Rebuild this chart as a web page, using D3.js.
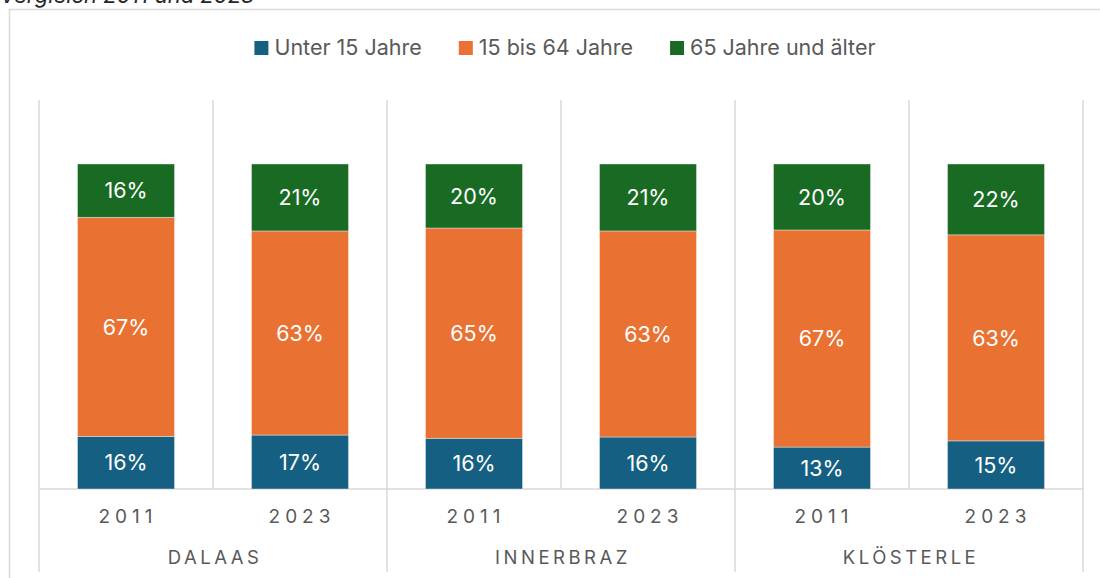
<!DOCTYPE html>
<html>
<head>
<meta charset="utf-8">
<script src="https://cdn.jsdelivr.net/npm/d3@7"></script>
<style>
  html, body { margin: 0; padding: 0; background: #fff; overflow: hidden; }
  svg { display: block; }
  text { font-family: Inter, "Liberation Sans", sans-serif; }
</style>
</head>
<body>
<svg id="chart" width="1100" height="578"></svg>
<script>
const width = 1100;
const height = 578;

// Data (shares in %)
const places = ["DALAAS", "INNERBRAZ", "KLÖSTERLE"];
const years = ["2011", "2023"];
const seriesNames = ["Unter 15 Jahre", "15 bis 64 Jahre", "65 Jahre und älter"];
const seriesColors = ["#156082", "#E97132", "#196B24"];

// one entry per place/year, order as in places x years
const under15 = [16.2, 16.6, 15.6, 16.0, 12.9, 14.8];
const age15to64 = [67.4, 62.8, 64.7, 63.4, 66.8, 63.4];
const over65 = [16.4, 20.6, 19.7, 20.6, 20.3, 21.8];

const rows = [];
places.forEach((p, i) => years.forEach((y, j) => {
    const k = i * years.length + j;
    rows.push({ place: p, year: y, s0: under15[k], s1: age15to64[k], s2: over65[k] });
}));

const svg = d3.select("#chart");
const grid = "#d9d9d9";
const textGray = "#595959";

// Frame (extends past the window on the right / bottom)
svg.append("rect")
    .attr("x", 9.5).attr("y", 9.5)
    .attr("width", 1200).attr("height", 700)
    .attr("fill", "none").attr("stroke", grid).attr("stroke-width", 1.5);

// Title, mostly cut off at the top (as in the source screenshot)
svg.append("text")
    .attr("x", 0).attr("y", 3)
    .attr("font-size", 22)
    .attr("font-style", "italic")
    .attr("fill", "#262626")
    .text("Vergleich 2011 und 2023");

// Scales
const plotTop = 100, plotBottom = 489;
const x0 = d3.scaleBand().domain(places).range([39, 1083]).padding(0);
const x1 = d3.scaleBand().domain(years).range([0, x0.bandwidth()])
    .paddingInner(0.4425).paddingOuter(0.22125);
const y = d3.scaleLinear().domain([0, 100]).range([plotBottom, 164]);

// Gridlines: year boundaries to the axis, place boundaries into the label area
const gridG = svg.append("g").attr("stroke", grid).attr("stroke-width", 1.5);
places.forEach(p => {
    years.forEach((yr, j) => {
        const xx = x0(p) + x1.step() * j;
        gridG.append("line")
            .attr("x1", xx).attr("x2", xx)
            .attr("y1", plotTop).attr("y2", j === 0 ? 572 : plotBottom);
    });
});
gridG.append("line")
    .attr("x1", x0.range()[1]).attr("x2", x0.range()[1])
    .attr("y1", plotTop).attr("y2", 572);
gridG.append("line")
    .attr("x1", x0.range()[0]).attr("x2", x0.range()[1])
    .attr("y1", plotBottom).attr("y2", plotBottom);

// Stacked bars
const stack = d3.stack().keys(["s0", "s1", "s2"])
    .offset(d3.stackOffsetExpand);
const stacked = stack(rows);

const layers = svg.append("g").selectAll("g")
    .data(stacked)
    .join("g")
    .attr("fill", (d, i) => seriesColors[i]);

layers.selectAll("rect")
    .data(d => d)
    .join("rect")
    .attr("x", d => x0(d.data.place) + x1(d.data.year))
    .attr("width", x1.bandwidth())
    .attr("y", d => y(d[1] * 100))
    .attr("height", d => y(d[0] * 100) - y(d[1] * 100))
    .attr("stroke", "#fff").attr("stroke-opacity", 0.5).attr("stroke-width", 0.75);

layers.selectAll("text")
    .data((d, i) => d.map(v => ({ v, key: stacked[i].key })))
    .join("text")
    .attr("x", d => x0(d.v.data.place) + x1(d.v.data.year) + x1.bandwidth() / 2)
    .attr("y", d => (y(d.v[0] * 100) + y(d.v[1] * 100)) / 2)
    .attr("dy", "0.36em")
    .attr("text-anchor", "middle")
    .attr("font-size", 21.5)
    .attr("fill", "#fff")
    .text(d => Math.round(d.v.data[d.key]) + "%");

// Category axis labels
const axisG = svg.append("g").attr("fill", textGray);
rows.forEach(r => {
    axisG.append("text")
        .attr("x", x0(r.place) + x1(r.year) + x1.bandwidth() / 2 + 2)
        .attr("y", 523)
        .attr("text-anchor", "middle")
        .attr("font-size", 19)
        .attr("letter-spacing", "5px")
        .text(r.year);
});
places.forEach(p => {
    axisG.append("text")
        .attr("x", x0(p) + x0.bandwidth() / 2 + 2)
        .attr("y", 564)
        .attr("text-anchor", "middle")
        .attr("font-size", 18.5)
        .attr("letter-spacing", "3.5px")
        .text(p);
});

// Legend
const legend = svg.append("g");
const items = legend.selectAll("g").data(seriesNames).join("g");
items.append("rect")
    .attr("width", 14).attr("height", 14)
    .attr("y", 41)
    .attr("fill", (d, i) => seriesColors[i]);
items.append("text")
    .attr("x", 20).attr("y", 54.5)
    .attr("font-size", 21.5)
    .attr("fill", textGray)
    .text(d => d);
let offset = 0;
items.each(function() {
    d3.select(this).attr("transform", `translate(${offset},0)`);
    offset += 20 + d3.select(this).select("text").node().getComputedTextLength() + 37;
});
const legendW = offset - 37;
legend.attr("transform", `translate(${565 - legendW / 2},0)`);
</script>
</body>
</html>
